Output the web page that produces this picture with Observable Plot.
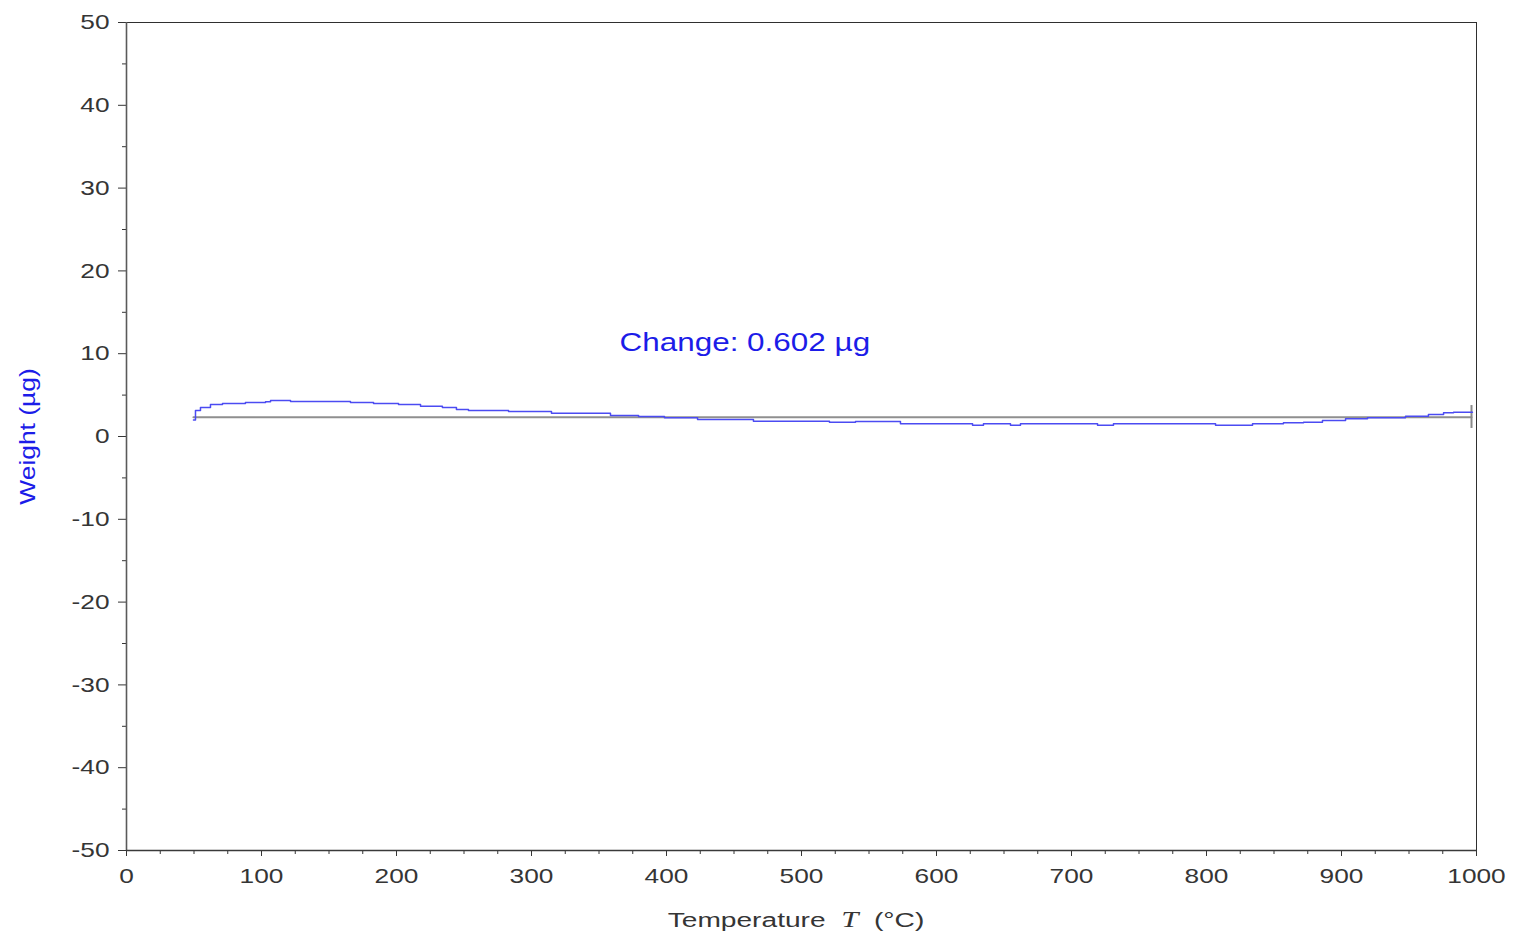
<!DOCTYPE html>
<html>
<head>
<meta charset="utf-8">
<script src="https://cdn.jsdelivr.net/npm/d3@7"></script>
<script src="https://cdn.jsdelivr.net/npm/@observablehq/plot@0.6"></script>
<style>
  html, body { margin: 0; padding: 0; background: #fff; }
  #chart svg { display: block; }
</style>
</head>
<body>
<div id="chart"></div>
<script>
// Thermogravimetric trace: sample weight (µg) against temperature (°C).
// Each point marks where the stepped reading changes level.
const temperature = [49.6, 51.1, 54.8, 62.2, 71.1, 88.1, 103.0, 106.7, 121.5, 165.9,
  183.0, 201.5, 217.8, 234.0, 244.4, 253.3, 283.0, 314.8, 358.5, 379.3,
  398.5, 423.0, 464.4, 520.7, 540.0, 573.3, 626.7, 634.8, 654.8, 662.2,
  719.3, 731.1, 806.7, 834.1, 857.0, 871.9, 885.9, 903.0, 919.3, 947.4,
  964.4, 975.6, 983.0, 997.0];
const weight = [1.99, 3.14, 3.50, 3.86, 3.99, 4.11, 4.19, 4.35, 4.23, 4.11,
  3.99, 3.86, 3.66, 3.50, 3.26, 3.14, 3.02, 2.81, 2.54, 2.42,
  2.26, 2.05, 1.85, 1.73, 1.81, 1.53, 1.36, 1.53, 1.36, 1.53,
  1.36, 1.53, 1.36, 1.53, 1.65, 1.73, 1.93, 2.14, 2.26, 2.45,
  2.66, 2.86, 2.93, 2.93];

// Reference level drawn under the trace and the end-of-run marker.
const baselineTemperature = [49.6, 996.3];
const baselineWeight = 2.33;
const endMarkerTemperature = 996.3;
const endMarkerRange = [0.97, 3.74];

// Annotation
const changeValue = 0.602;
const changeLabel = `Change: ${changeValue.toFixed(3)} µg`;
const changeAt = {temperature: 458, weight: 11.35};
const yTitle = "Weight (µg)";

// Axis ticks
const xTicks = d3.range(0, 1001, 100);
const xMinorTicks = d3.range(25, 1000, 25).filter(d => d % 100 !== 0);
const yTicks = d3.range(-50, 51, 10);
const yMinorTicks = d3.range(-45, 50, 10);

const traceData = temperature.map((t, i) => ({t, w: weight[i]}));
const baselineData = baselineTemperature.map(t => ({t, w: baselineWeight}));

const axisColor = "#353535";
const labelBlue = "#1c1ce8";
const traceBlue = "#4b4bf2";

const chart = Plot.plot({
  width: 1513,
  height: 934,
  marginLeft: 126,
  marginRight: 37,
  marginTop: 22,
  marginBottom: 84,
  style: {fontFamily: "'Liberation Sans', Arial, sans-serif", background: "#fff"},
  x: {domain: [0, 1000]},
  y: {domain: [-50, 50]},
  marks: [
    Plot.frame({stroke: "#2f2f2f", strokeWidth: 1}),
    Plot.axisY(yMinorTicks, {tickSize: 4, stroke: axisColor, text: null, label: null}),
    Plot.axisY(yTicks, {tickSize: 8, tickPadding: 9, fontSize: 21, color: axisColor,
      tickFormat: d => String(d), label: null}),
    Plot.axisX(xMinorTicks, {tickSize: 4, stroke: axisColor, text: null, label: null}),
    Plot.axisX(xTicks, {tickSize: 6, tickPadding: 12, fontSize: 21, color: axisColor,
      tickFormat: d => String(d), label: null}),
    Plot.ruleX([0], {stroke: "#5a5a5a", strokeWidth: 1.6}),
    Plot.ruleY([-50], {stroke: "#3a3a3a", strokeWidth: 1.6}),
    Plot.line(baselineData, {x: "t", y: "w", stroke: "#8f8f8f", strokeWidth: 2}),
    Plot.ruleX([endMarkerTemperature], {y1: endMarkerRange[0], y2: endMarkerRange[1],
      stroke: "#8a8a8a", strokeWidth: 2}),
    Plot.line(traceData, {x: "t", y: "w", curve: "step-after", stroke: traceBlue,
      strokeWidth: 1.5}),
    Plot.text([changeLabel], {x: () => changeAt.temperature, y: () => changeAt.weight,
      text: d => d, fill: labelBlue, fontSize: 26, textAnchor: "middle",
      lineAnchor: "middle"}),
    Plot.text([yTitle], {frameAnchor: "left", text: d => d, rotate: -90,
      dx: -99, fill: labelBlue, fontSize: 22, textAnchor: "middle", lineAnchor: "middle"})
  ]
});

const svg = d3.select(chart);

// X-axis title with an italic serif symbol for temperature
const xTitle = svg.append("g").attr("class", "x-title")
  .append("text")
  .attr("transform", "translate(796,927)")
  .attr("text-anchor", "middle")
  .attr("fill", axisColor)
  .attr("font-size", 21)
  .attr("font-family", "'Liberation Sans', Arial, sans-serif")
  .style("white-space", "pre");
xTitle.append("tspan").text("Temperature\u00a0 ");
xTitle.append("tspan").attr("font-family", "'Liberation Serif', 'DejaVu Serif', serif")
  .attr("font-style", "italic").attr("font-size", 23).text("T");
xTitle.append("tspan").text(" \u00a0(°C)");

// Wide lettering: stretch each label along its own baseline
function stretchFor(content) {
  if (content === changeLabel) return 1.21;
  if (content === yTitle) return 1.2;
  if (content.startsWith("Temperature")) return 1.34;
  return 1.25; // tick labels
}
svg.selectAll("text").each(function () {
  const k = stretchFor(this.textContent);
  const tr = this.getAttribute("transform") || "";
  this.setAttribute("transform", `${tr} scale(${k},1)`);
  const x = this.getAttribute("x");
  if (x !== null) this.setAttribute("x", +x / k);
});

document.getElementById("chart").appendChild(chart);
</script>
</body>
</html>
